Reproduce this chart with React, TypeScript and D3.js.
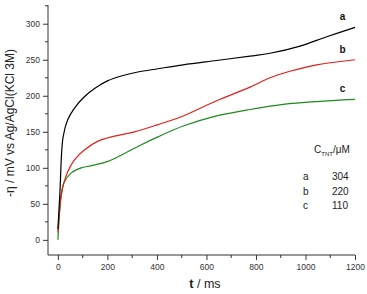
import { useEffect, useRef } from "react";
import * as d3 from "d3";

// time (ms) / overpotential (mV)
const tA = [0, 8, 21, 40, 67, 108, 148, 202, 256, 323, 404, 506, 641, 776, 857, 978, 1086, 1200];
const vA = [15, 65, 143, 167, 183, 199, 210, 221, 227.5, 233, 237.5, 243, 249, 255, 259, 269, 282, 295];

const tB = [0, 13, 24, 40, 67, 108, 162, 229, 310, 404, 506, 641, 776, 857, 937, 1045, 1200];
const vB = [10, 60, 79, 95, 111, 125, 137, 144, 150, 160, 172, 193, 212, 225, 234, 243, 250];

const tC = [0, 13, 24, 54, 94, 135, 202, 269, 337, 404, 506, 641, 776, 910, 1045, 1200];
const vC = [0, 62, 79, 93, 100, 103, 109, 120, 132, 143, 158, 172, 181, 188, 192, 195];

const seriesNames = ["a", "b", "c"];
const seriesColors = ["#000000", "#e0201b", "#1e8a1e"];
const concentrations = ["304", "220", "110"];

const xTicks = [0, 200, 400, 600, 800, 1000, 1200];
const yTicks = [0, 50, 100, 150, 200, 250, 300];

const App = () => {
  const svgRef = useRef<SVGSVGElement | null>(null);

  useEffect(() => {
    if (!svgRef.current) return;
    const svg = d3.select(svgRef.current);
    svg.selectAll("*").remove();

    const x = d3.scaleLinear().domain([-40, 1200]).range([48, 355]);
    const y = d3.scaleLinear().domain([-21, 326]).range([255, 5]);
    const axisColor = "#333";
    const font = "Arial, 'Liberation Sans', sans-serif";

    // curves
    const series = [
      tA.map((t, i) => [t, vA[i]]),
      tB.map((t, i) => [t, vB[i]]),
      tC.map((t, i) => [t, vC[i]]),
    ];
    const line = d3
      .line<number[]>()
      .x((d) => x(d[0]))
      .y((d) => y(d[1]))
      .curve(d3.curveCatmullRom.alpha(0.5));

    // draw c, b, a so black sits on top
    [2, 1, 0].forEach((i) => {
      svg
        .append("path")
        .attr("d", line(series[i]))
        .attr("fill", "none")
        .attr("stroke", seriesColors[i])
        .attr("stroke-width", 1.2);
    });

    // y axis
    const yAxis = svg.append("g").attr("transform", `translate(48,0)`);
    yAxis
      .call(d3.axisLeft(y).tickValues(yTicks).tickSize(5).tickSizeOuter(0).tickPadding(3))
      .call((g) => g.select(".domain").remove());
    yAxis
      .selectAll("g.minor")
      .data(d3.range(-25, 326, 50).filter((v) => v > -21))
      .enter()
      .append("line")
      .attr("x1", -3)
      .attr("x2", 0)
      .attr("y1", (d) => y(d))
      .attr("y2", (d) => y(d))
      .attr("stroke", axisColor);
    yAxis
      .append("line")
      .attr("x1", 0)
      .attr("x2", 0)
      .attr("y1", 5)
      .attr("y2", 255)
      .attr("stroke", axisColor);

    // x axis
    const xAxis = svg.append("g").attr("transform", `translate(0,255)`);
    xAxis
      .call(
        d3
          .axisBottom(x)
          .tickValues(xTicks)
          .tickFormat(d3.format("d"))
          .tickSize(5)
          .tickSizeOuter(0)
          .tickPadding(4)
      )
      .call((g) => g.select(".domain").remove());
    xAxis
      .selectAll("g.minor")
      .data(d3.range(100, 1200, 200))
      .enter()
      .append("line")
      .attr("x1", (d) => x(d))
      .attr("x2", (d) => x(d))
      .attr("y1", 0)
      .attr("y2", 3)
      .attr("stroke", axisColor);
    xAxis
      .append("line")
      .attr("x1", 48)
      .attr("x2", 355)
      .attr("y1", 0)
      .attr("y2", 0)
      .attr("stroke", axisColor);

    svg.selectAll(".tick line").attr("stroke", axisColor);
    svg
      .selectAll(".tick text")
      .attr("fill", "#333")
      .style("font-family", font)
      .style("font-size", "8.5px");

    // axis titles
    svg
      .append("text")
      .attr("transform", `translate(14,123) rotate(-90)`)
      .attr("text-anchor", "middle")
      .style("font-family", font)
      .style("font-size", "12px")
      .attr("fill", "#222")
      .text("-η / mV vs Ag/AgCl(KCl 3M)");

    const xt = svg
      .append("text")
      .attr("x", 205)
      .attr("y", 288)
      .attr("text-anchor", "middle")
      .style("font-family", font)
      .style("font-size", "12.5px")
      .attr("fill", "#222");
    xt.append("tspan").attr("font-weight", "bold").text("t");
    xt.append("tspan").text(" / ms");

    // curve labels at the right end
    const labelY = [vA[vA.length - 1], vB[vB.length - 1], vC[vC.length - 1]];
    seriesNames.forEach((n, i) => {
      svg
        .append("text")
        .attr("x", x(1150))
        .attr("y", y(labelY[i]) - 7)
        .attr("text-anchor", "middle")
        .attr("font-weight", "bold")
        .style("font-family", font)
        .style("font-size", "10px")
        .attr("fill", "#111")
        .text(n);
    });

    // legend
    const lg = svg.append("g").style("font-family", font).attr("fill", "#222");
    const head = lg.append("text").attr("x", 314).attr("y", 153).style("font-size", "10px");
    head.append("tspan").text("C");
    head.append("tspan").attr("dy", 3).style("font-size", "6px").text("TNT");
    head.append("tspan").attr("dy", -3).text("/μM");
    seriesNames.forEach((n, i) => {
      lg.append("text")
        .attr("x", 303)
        .attr("y", 180 + i * 14.5)
        .style("font-size", "10px")
        .text(n);
      lg.append("text")
        .attr("x", 332)
        .attr("y", 180 + i * 14.5)
        .style("font-size", "10px")
        .text(concentrations[i]);
    });
  }, []);

  return (
    <svg
      ref={svgRef}
      width={367}
      height={294}
      style={{ position: "absolute", left: 0, top: 0, background: "#fff" }}
    ></svg>
  );
};

export default App;
